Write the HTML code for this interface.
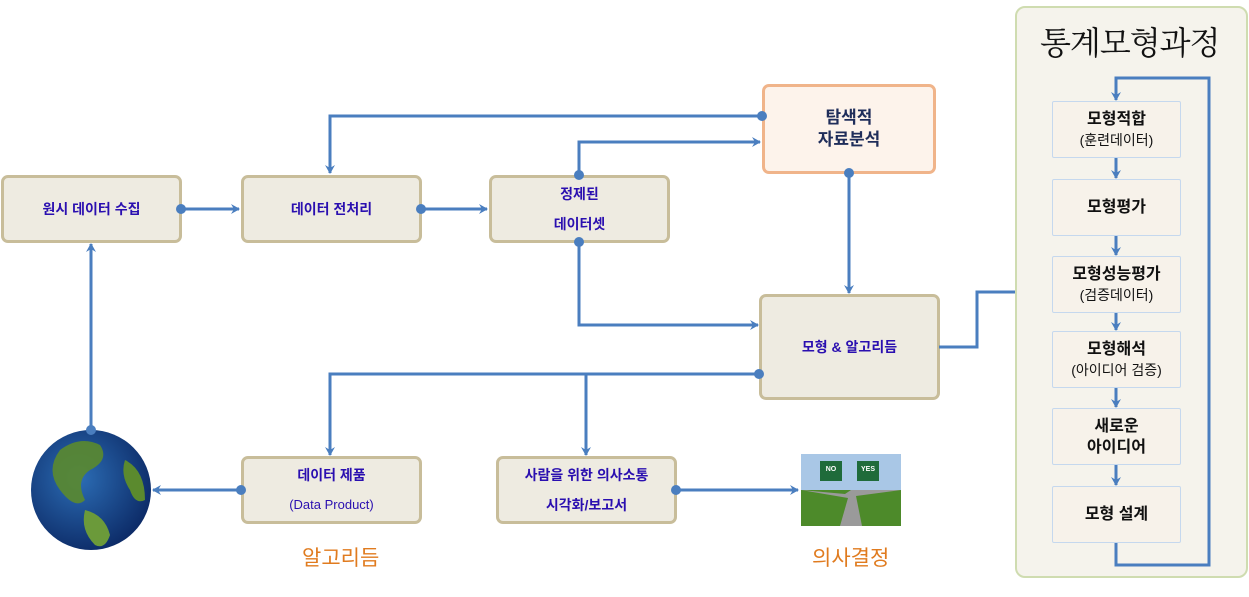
<!DOCTYPE html>
<html><head><meta charset="utf-8"><style>
*{margin:0;padding:0;box-sizing:border-box}
body{width:1249px;height:597px;background:#fff;position:relative;overflow:hidden;font-family:"Liberation Sans","Noto Sans CJK KR",sans-serif}
.b{position:absolute;background:#eeebe1;border:3px solid #c8bd9a;border-radius:7px;display:flex;flex-direction:column;align-items:center;justify-content:center;text-align:center;color:#2a0fb0;font-size:14px;font-weight:bold;line-height:30px}
.p{position:absolute;left:1015px;top:6px;width:233px;height:572px;background:#f5f3ec;border:2px solid #cfdcb0;border-radius:10px}
.s{position:absolute;left:1052px;width:129px;height:57px;background:#f7f2ea;border:1px solid #c5d8ee;border-radius:2px;display:flex;flex-direction:column;align-items:center;justify-content:center;text-align:center;color:#111;font-size:16px;font-weight:bold;line-height:21px}
.s small{font-size:14px;font-weight:normal}
.h{position:absolute;color:#e07b1f;font-family:"Noto Sans CJK KR",sans-serif;font-size:21px}
</style></head><body>
<div class="p"></div>
<div style="position:absolute;left:1040px;top:18px;font-size:32px;color:#111;font-family:'Noto Serif CJK SC','Noto Sans CJK KR',serif;letter-spacing:-1px">통계모형과정</div>

<div class="b" style="left:1px;top:175px;width:181px;height:68px">원시 데이터 수집</div>
<div class="b" style="left:241px;top:175px;width:181px;height:68px">데이터 전처리</div>
<div class="b" style="left:489px;top:175px;width:181px;height:68px"><div>정제된</div><div>데이터셋</div></div>
<div class="b" style="left:762px;top:84px;width:174px;height:90px;background:#fdf3eb;border-color:#f0b48a;color:#1f2d5a;font-size:17px;line-height:22px">탐색적<br>자료분석</div>
<div class="b" style="left:759px;top:294px;width:181px;height:106px">모형 &amp; 알고리듬</div>
<div class="b" style="left:241px;top:456px;width:181px;height:68px"><div>데이터 제품</div><div style="font-weight:normal;font-size:13px">(Data Product)</div></div>
<div class="b" style="left:496px;top:456px;width:181px;height:68px"><div>사람을 위한 의사소통</div><div>시각화/보고서</div></div>

<div class="s" style="top:101px"><div>모형적합</div><small>(훈련데이터)</small></div>
<div class="s" style="top:179px">모형평가</div>
<div class="s" style="top:256px"><div>모형성능평가</div><small>(검증데이터)</small></div>
<div class="s" style="top:331px"><div>모형해석</div><small>(아이디어 검증)</small></div>
<div class="s" style="top:408px"><div>새로운</div><div>아이디어</div></div>
<div class="s" style="top:486px">모형 설계</div>

<div class="h" style="left:302px;top:542px">알고리듬</div>
<div class="h" style="left:812px;top:542px">의사결정</div>

<svg width="1249" height="597" style="position:absolute;left:0;top:0">
<defs>
<marker id="a" markerWidth="10" markerHeight="10" refX="8" refY="5" orient="auto" markerUnits="userSpaceOnUse"><path d="M0,0 L9,5 L0,10 L3,5z" fill="#4a7ebf"/></marker>
<radialGradient id="g" cx="40%" cy="40%" r="65%"><stop offset="0" stop-color="#2c6db5"/><stop offset="1" stop-color="#0c2a66"/></radialGradient>
</defs>
<g stroke="#4a7ebf" stroke-width="3" fill="none">
<path d="M181,209H239" marker-end="url(#a)"/>
<path d="M421,209H487" marker-end="url(#a)"/>
<path d="M762,116H330V173" marker-end="url(#a)"/>
<path d="M579,175V142H760" marker-end="url(#a)"/>
<path d="M849,173V293" marker-end="url(#a)"/>
<path d="M579,242V325H758" marker-end="url(#a)"/>
<path d="M759,374H330V455" marker-end="url(#a)"/>
<path d="M586,374V455" marker-end="url(#a)"/>
<path d="M241,490H153" marker-end="url(#a)"/>
<path d="M91,430V244" marker-end="url(#a)"/>
<path d="M676,490H798" marker-end="url(#a)"/>
<path d="M939,347H977V292H1015"/>
<path d="M1116,543V565H1209V78H1116V100" marker-end="url(#a)"/>
<path d="M1116,158V178" marker-end="url(#a)"/>
<path d="M1116,236V255" marker-end="url(#a)"/>
<path d="M1116,313V330" marker-end="url(#a)"/>
<path d="M1116,388V407" marker-end="url(#a)"/>
<path d="M1116,465V485" marker-end="url(#a)"/>
</g>
<g fill="#4a7ebf">
<circle cx="181" cy="209" r="5"/><circle cx="421" cy="209" r="5"/><circle cx="762" cy="116" r="5"/>
<circle cx="579" cy="175" r="5"/><circle cx="849" cy="173" r="5"/><circle cx="579" cy="242" r="5"/>
<circle cx="759" cy="374" r="5"/><circle cx="241" cy="490" r="5"/><circle cx="676" cy="490" r="5"/>
</g>
<circle cx="91" cy="490" r="60" fill="url(#g)"/>
<path d="M60,450 q20,-15 40,-5 q10,15 -10,25 q-15,10 -5,30 q-10,10 -25,-10 q-15,-20 0,-40z" fill="#5b8a2e" opacity=".9"/>
<path d="M85,510 q20,5 25,25 q-5,15 -15,10 q-15,-15 -10,-35z" fill="#6b9a3a"/>
<path d="M125,460 q20,10 20,40 q-10,5 -15,-10 q-10,-15 -5,-30z" fill="#5b8a2e"/>
<circle cx="91" cy="430" r="5" fill="#4a7ebf"/>
<rect x="801" y="454" width="100" height="72" fill="#a9c7e6"/>
<rect x="801" y="490" width="100" height="36" fill="#4d8a2a"/>
<path d="M840,526 L848,498 L801,490 L845,494 L851,490 L901,490 L856,496 L862,526z" fill="#9a9a9a"/>
<rect x="820" y="461" width="22" height="20" fill="#1f6b3a"/>
<rect x="857" y="461" width="22" height="20" fill="#1f6b3a"/>
<text x="831" y="471" font-size="7" fill="#fff" text-anchor="middle" font-weight="bold" font-family="Liberation Sans">NO</text>
<text x="868" y="471" font-size="7" fill="#fff" text-anchor="middle" font-weight="bold" font-family="Liberation Sans">YES</text>
</svg>
</body></html>
